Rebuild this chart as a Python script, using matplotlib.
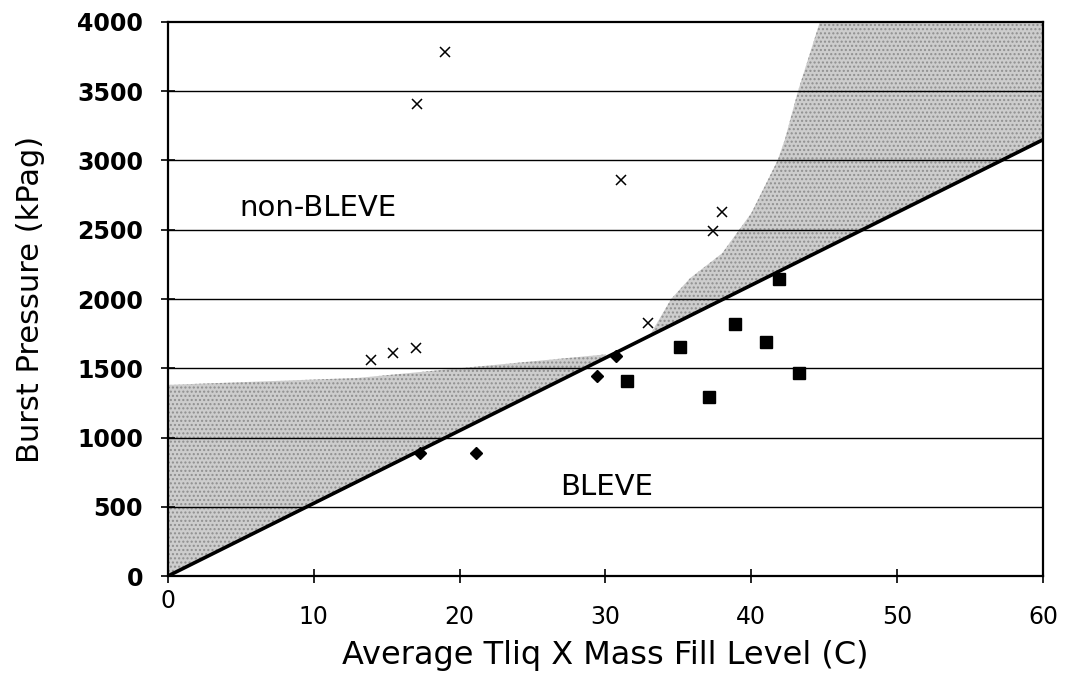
import matplotlib.pyplot as plt
import numpy as np

# --- data ---
# non-BLEVE tests (crosses)
nb_x = [13.9, 15.4, 17.0, 17.1, 19.0, 31.1, 32.9, 37.4, 38.0]
nb_y = [1560, 1610, 1645, 3405, 3780, 2860, 1830, 2490, 2630]

# BLEVE tests (small diamonds)
bd_x = [17.3, 21.1, 29.4, 30.7]
bd_y = [888, 888, 1444, 1588]

# BLEVE tests (squares)
bs_x = [31.5, 35.1, 37.1, 38.9, 41.0, 41.9, 43.3]
bs_y = [1410, 1656, 1295, 1817, 1690, 2144, 1463]

# dividing line
line_x = [0, 60]
line_y = [0, 3150]

# shaded uncertainty band, lower-left part (top edge)
band1_x = [0, 13, 22, 28, 30]
band1_top = [1380, 1430, 1520, 1580, 1600]

# shaded band, upper-right part (left edge as function of pressure)
band2_y = [1730, 2000, 2150, 2330, 2620, 3000, 3150, 3500, 4000]
band2_left = [33.0, 34.5, 35.8, 38.0, 40.0, 41.8, 42.3, 43.2, 44.7]

fig = plt.figure(figsize=(10.65, 6.85), dpi=100)
ax = fig.add_axes([0.1577, 0.1591, 0.8216, 0.8088])

shade = dict(facecolor='#cdcdcd', hatch='....', edgecolor='#8f8f8f', linewidth=0)

# band 1
bx = np.array(band1_x, dtype=float)
ax.fill_between(bx, np.interp(bx, line_x, line_y), band1_top, zorder=1, **shade)

# band 2
by = np.array(band2_y, dtype=float)
ax.fill_betweenx(by, band2_left, np.interp(by, line_y, line_x), zorder=1, **shade)

# horizontal grid lines
for g in range(500, 4000, 500):
    ax.axhline(g, color='black', lw=1.0, zorder=2)

ax.plot(line_x, line_y, color='black', lw=2.6, zorder=3)

ax.plot(nb_x, nb_y, ls='none', marker='x', ms=7, mew=1.1, color='black', zorder=4)
ax.plot(bd_x, bd_y, ls='none', marker='D', ms=6.5, color='black', zorder=4)
ax.plot(bs_x, bs_y, ls='none', marker='s', ms=9, color='black', zorder=4)

ax.text(10.3, 2660, 'non-BLEVE', fontsize=21, ha='center', va='center',
        family='DejaVu Sans')
ax.text(30.1, 640, 'BLEVE', fontsize=21, ha='center', va='center',
        family='DejaVu Sans')

ax.set_xlim(0, 60)
ax.set_ylim(0, 4000)
ax.set_xticks(range(0, 61, 10))
ax.set_yticks(range(0, 4001, 500))
for s in ax.spines.values():
    s.set_linewidth(1.6)

ax.tick_params(axis='both', direction='inout', length=10, width=1.2)
ax.tick_params(axis='x', labelsize=17, pad=16)
ax.tick_params(axis='y', labelsize=17, pad=13)
for lab in ax.get_yticklabels():
    lab.set_fontweight('bold')
    lab.set_family('DejaVu Sans')
for lab in ax.get_xticklabels():
    lab.set_family('DejaVu Sans')
ax.xaxis.get_major_ticks()[0].set_pad(4)

ax.set_xlabel('Average Tliq X Mass Fill Level (C)', fontsize=23,
              family='DejaVu Sans', labelpad=8)
ax.set_ylabel('Burst Pressure (kPag)', fontsize=22, family='DejaVu Sans')
ax.yaxis.set_label_coords(-0.14, 0.5)

plt.savefig('out.png', dpi=100)
